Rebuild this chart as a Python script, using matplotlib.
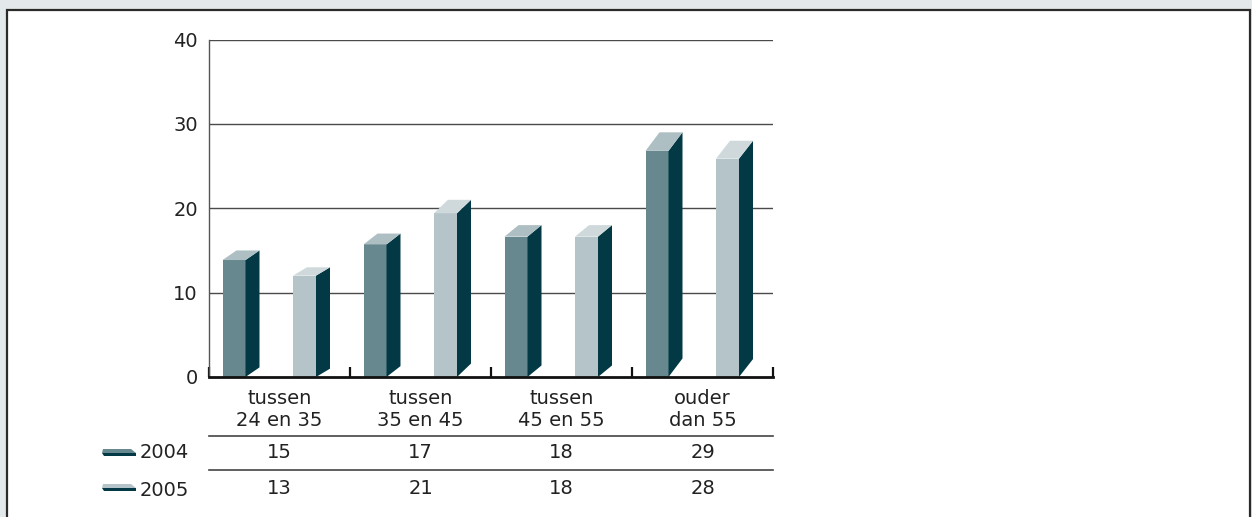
import matplotlib
matplotlib.use("Agg")
import matplotlib.pyplot as plt
from matplotlib.patches import Polygon, Rectangle
from matplotlib.transforms import blended_transform_factory

plt.rcParams['font.family'] = ['DejaVu Sans']

categories = ["tussen\n24 en 35", "tussen\n35 en 45", "tussen\n45 en 55", "ouder\ndan 55"]
series_names = ["2004", "2005"]
values_2004 = [15, 17, 18, 29]
values_2005 = [13, 21, 18, 28]
y_ticks = [0, 10, 20, 30, 40]

FS = 14
TXT = '#222222'

W, H = 1252, 517
fig = plt.figure(figsize=(W / 100, H / 100), dpi=100)
fig.patch.set_facecolor('#e3e8ea')

def fx(px):
    return px / W

def fy(py):
    return 1 - py / H

# white panel
panel = Rectangle((fx(6.5), fy(530)), fx(1249.5) - fx(6.5), fy(9.5) - fy(530),
                  transform=fig.transFigure, facecolor='white',
                  edgecolor='#2a2a2a', linewidth=1.6, zorder=-5)
fig.patches.append(panel)

ax_left, ax_right, ax_top, ax_bot = 209, 773, 39.5, 377
ax = fig.add_axes([fx(ax_left), fy(ax_bot), fx(ax_right) - fx(ax_left), fy(ax_top) - fy(ax_bot)])
ax.set_zorder(2)
ax.patch.set_visible(False)
ax.set_xlim(0, 4)
ax.set_ylim(0, 40)
for s in ['top', 'right']:
    ax.spines[s].set_visible(False)
ax.spines['left'].set_color('#555555')
ax.spines['left'].set_linewidth(1.0)
ax.spines['bottom'].set_color('#111111')
ax.spines['bottom'].set_linewidth(2.0)
ax.spines['bottom'].set_zorder(5)
ax.set_yticks(y_ticks)
ax.set_yticklabels([str(t) for t in y_ticks], fontsize=FS, color=TXT)
ax.tick_params(axis='y', length=0, pad=8)
ax.set_xticks(range(len(categories) + 1))
ax.set_xticklabels([])
ax.tick_params(axis='x', direction='in', length=7, width=1.6, color='#111111')
for t in y_ticks[1:]:
    ax.axhline(t, color='#4a4a4a', linewidth=1.0, zorder=1)

# 3D bar geometry (in pixels converted to data units)
px_per_x = (ax_right - ax_left) / 4.0
px_per_y = (ax_bot - ax_top) / 40.0
dx = 14 / px_per_x
depth_ratio = 0.64 / px_per_y   # the depth of each bar's top face grows with its height
bw = 23 / px_per_x
offsets = [13.5 / px_per_x, 84 / px_per_x]
front_cols = ['#688890', '#b4c4c9']
top_cols = ['#aebfc3', '#cfd9dc']
side_col = '#023945'

for si, vals in enumerate([values_2004, values_2005]):
    for i, v in enumerate(vals):
        x0 = i + offsets[si]
        dy = depth_ratio * v
        yf = v - dy
        ax.add_patch(Polygon([(x0, 0), (x0 + bw, 0), (x0 + bw, yf), (x0, yf)],
                             closed=True, facecolor=front_cols[si], edgecolor='none', zorder=3))
        ax.add_patch(Polygon([(x0 + bw, 0), (x0 + bw + dx, dy), (x0 + bw + dx, v), (x0 + bw, yf)],
                             closed=True, facecolor=side_col, edgecolor='none', zorder=3))
        ax.add_patch(Polygon([(x0, yf), (x0 + bw, yf), (x0 + bw + dx, v), (x0 + dx, v)],
                             closed=True, facecolor=top_cols[si], edgecolor='none', zorder=3))

# table below
tr = blended_transform_factory(ax.transData, fig.transFigure)
for i, c in enumerate(categories):
    ax.text(i + 0.5, fy(410), c, transform=tr, ha='center', va='center',
            fontsize=FS, color=TXT, linespacing=1.2, clip_on=False)
for py in [436, 470]:
    ax.plot([0, 4], [fy(py), fy(py)], transform=tr, color='#444444', linewidth=1.2, clip_on=False)

row_y = [453, 488]
for si, vals in enumerate([values_2004, values_2005]):
    for i, v in enumerate(vals):
        ax.text(i + 0.5, fy(row_y[si]), str(v), transform=tr, ha='center', va='center',
                fontsize=FS, color=TXT, clip_on=False)
    # legend swatch
    yc = row_y[si] - 1
    top = Polygon([(fx(103), fy(yc - 3)), (fx(131), fy(yc - 3)), (fx(136), fy(yc + 1)), (fx(102), fy(yc + 1))],
                  closed=True, transform=fig.transFigure, facecolor=front_cols[si], edgecolor='none')
    bot = Polygon([(fx(102), fy(yc + 1)), (fx(136), fy(yc + 1)), (fx(136), fy(yc + 4)), (fx(104), fy(yc + 4))],
                  closed=True, transform=fig.transFigure, facecolor=side_col, edgecolor='none')
    fig.patches.extend([top, bot])
    fig.text(fx(140), fy(row_y[si] + (0 if si == 0 else 2)), series_names[si], ha='left', va='center',
             fontsize=FS, color=TXT)

fig.savefig('out.png', dpi=100, facecolor=fig.get_facecolor())
